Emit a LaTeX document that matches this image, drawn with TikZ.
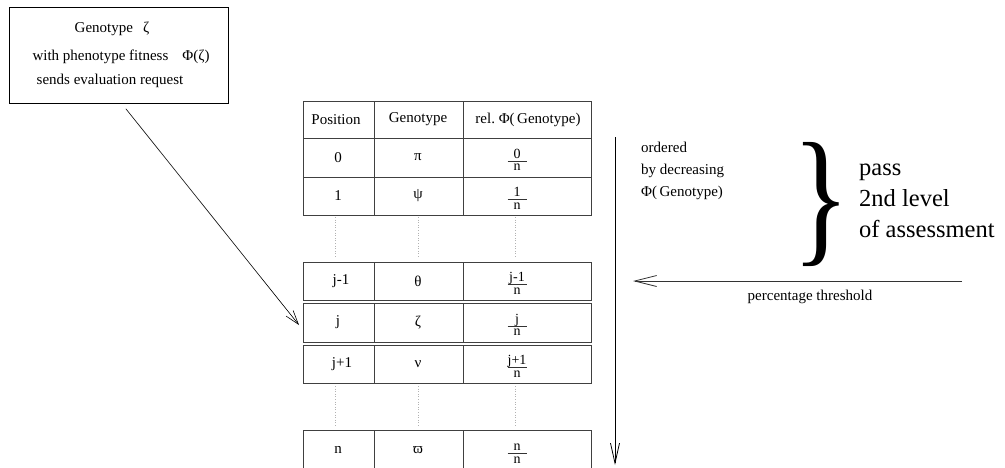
\documentclass[tikz,border=0pt]{standalone}
\usepackage{fontspec}
\setmainfont{Liberation Serif}
\usetikzlibrary{arrows.meta,calc}
\tikzset{
  txt/.style={font=\fontsize{15}{18}\selectfont, inner sep=0pt},
  ftxt/.style={font=\fontsize{14}{16}\selectfont, inner sep=0pt, anchor=base},
  bigtxt/.style={font=\fontsize{24.5}{28}\selectfont, inner sep=0pt, anchor=base west},
  rowbox/.style={draw=black!75, line width=1pt, minimum width=288pt, inner sep=0pt, anchor=north west},
  divider/.style={draw=black!75, line width=1pt},
  fracline/.style={draw=black!80, line width=0.8pt},
  gapdots/.style={draw=black!30, dotted, line width=0.6pt},
}
\newcommand{\frc}[3]{%
  \node[ftxt] (#1num) at (517,#2+0.5) {#3};
  \draw[fracline] (507.5,#2+3.5) -- (526.5,#2+3.5);
  \node[ftxt] (#1den) at (517,#2+13) {n};
}
\begin{document}
\begin{tikzpicture}[x=1pt,y=-1pt]
\clip (0,0) rectangle (1005,467);
% request box
\node[draw, line width=0.8pt, minimum width=219pt, minimum height=96pt, anchor=north west, inner sep=0pt] (box) at (9,7) {};
\node[txt] (g1) at (112,29) {Genotype\hspace{10pt}ζ};
\node[txt] (g2) at (121,57) {with phenotype fitness\hspace{14pt}Φ(ζ)};
\node[txt] (g3) at (110,81) {sends evaluation request};
% table rows
\node[rowbox, minimum height=37pt] (hdr) at (303,101) {};
\node[rowbox, minimum height=39pt] (r0) at (303,138) {};
\node[rowbox, minimum height=38pt] (r1) at (303,177) {};
\node[rowbox, minimum height=38pt] (rjm) at (303,262) {};
\node[rowbox, minimum height=39pt] (rj) at (303,303) {};
\node[rowbox, minimum height=38pt] (rjp) at (303,345) {};
\node[rowbox, minimum height=42pt] (rn) at (303,430) {};
\foreach \r in {hdr,r0,r1,rjm,rj,rjp,rn}{
  \path (\r.north west) ++(71,0) coordinate (\r a) ++(89,0) coordinate (\r b);
  \draw[divider] (\r a) -- (\r a |- \r.south);
  \draw[divider] (\r b) -- (\r b |- \r.south);
}
% header texts
\node[txt] (h1) at (336,119.5) {Position};
\node[txt] (h2) at (418,119.5) {Genotype};
\node[txt] (h3) at (528,119.5) {rel.\ Φ(\,Genotype)};
% rows
\node[txt] (a0) at (338,157.5) {0};   \node[txt] (b0) at (418,157.5) {π};
\node[txt] (a1) at (338,196) {1};     \node[txt] (b1) at (418,196) {ψ};
\node[txt] (a2) at (341,281) {j-1};   \node[txt] (b2) at (418,281) {θ};
\node[txt] (a3) at (338,322.5) {j};   \node[txt] (b3) at (418,322.5) {ζ};
\node[txt] (a4) at (342,364) {j+1};   \node[txt] (b4) at (418,364) {ν};
\node[txt] (a5) at (338,450) {n};     \node[txt] (b5) at (418,450) {ϖ};
\frc{c0}{157.5}{0}
\frc{c1}{196}{1}
\frc{c2}{281}{j-1}
\frc{c3}{322.5}{j}
\frc{c4}{364}{j+1}
\frc{c5}{450}{n}
% dotted gaps
\foreach \x in {335,418,515}{
  \draw[gapdots] (\x,217) -- (\x,258);
  \draw[gapdots] (\x,386) -- (\x,426);
}
% request arrow
\coordinate (rs) at ($(box.south)+(7,5)$);
\coordinate (re) at ($(rj.west)+(-4,2)$);
\draw[-{Straight Barb[length=14pt,width=9pt,line width=0.6pt]}, line width=0.6pt] (rs) -- (re);
% order arrow
\coordinate (os) at (615,137);
\coordinate (oe) at (615,465);
\draw[-{Straight Barb[length=20pt,width=9pt,line width=0.8pt]}, line width=0.8pt] (os) -- (oe);
\node[txt, anchor=base west] (o1) at (641,152) {ordered};
\node[txt, anchor=base west] (o2) at (641,174) {by decreasing};
\node[txt, anchor=base west] (o3) at (641,196) {Φ(\,Genotype)};
% threshold arrow
\coordinate (ts) at (962,281);
\coordinate (te) at (633,281);
\draw[-{Straight Barb[length=22pt,width=11pt,line width=0.8pt]}, line width=0.8pt, draw=black!80] (ts) -- (te);
\node[txt] (tl) at (810,297) {percentage threshold};
% brace and pass text
\node[inner sep=0pt] (brace) at (821,204) {\scalebox{0.8}[1]{\fontsize{150}{150}\selectfont\}}};
\node[bigtxt] (p1) at (859,175) {pass};
\node[bigtxt] (p2) at (859,206) {2nd level};
\node[bigtxt] (p3) at (859,237) {of assessment};
\end{tikzpicture}
\end{document}
